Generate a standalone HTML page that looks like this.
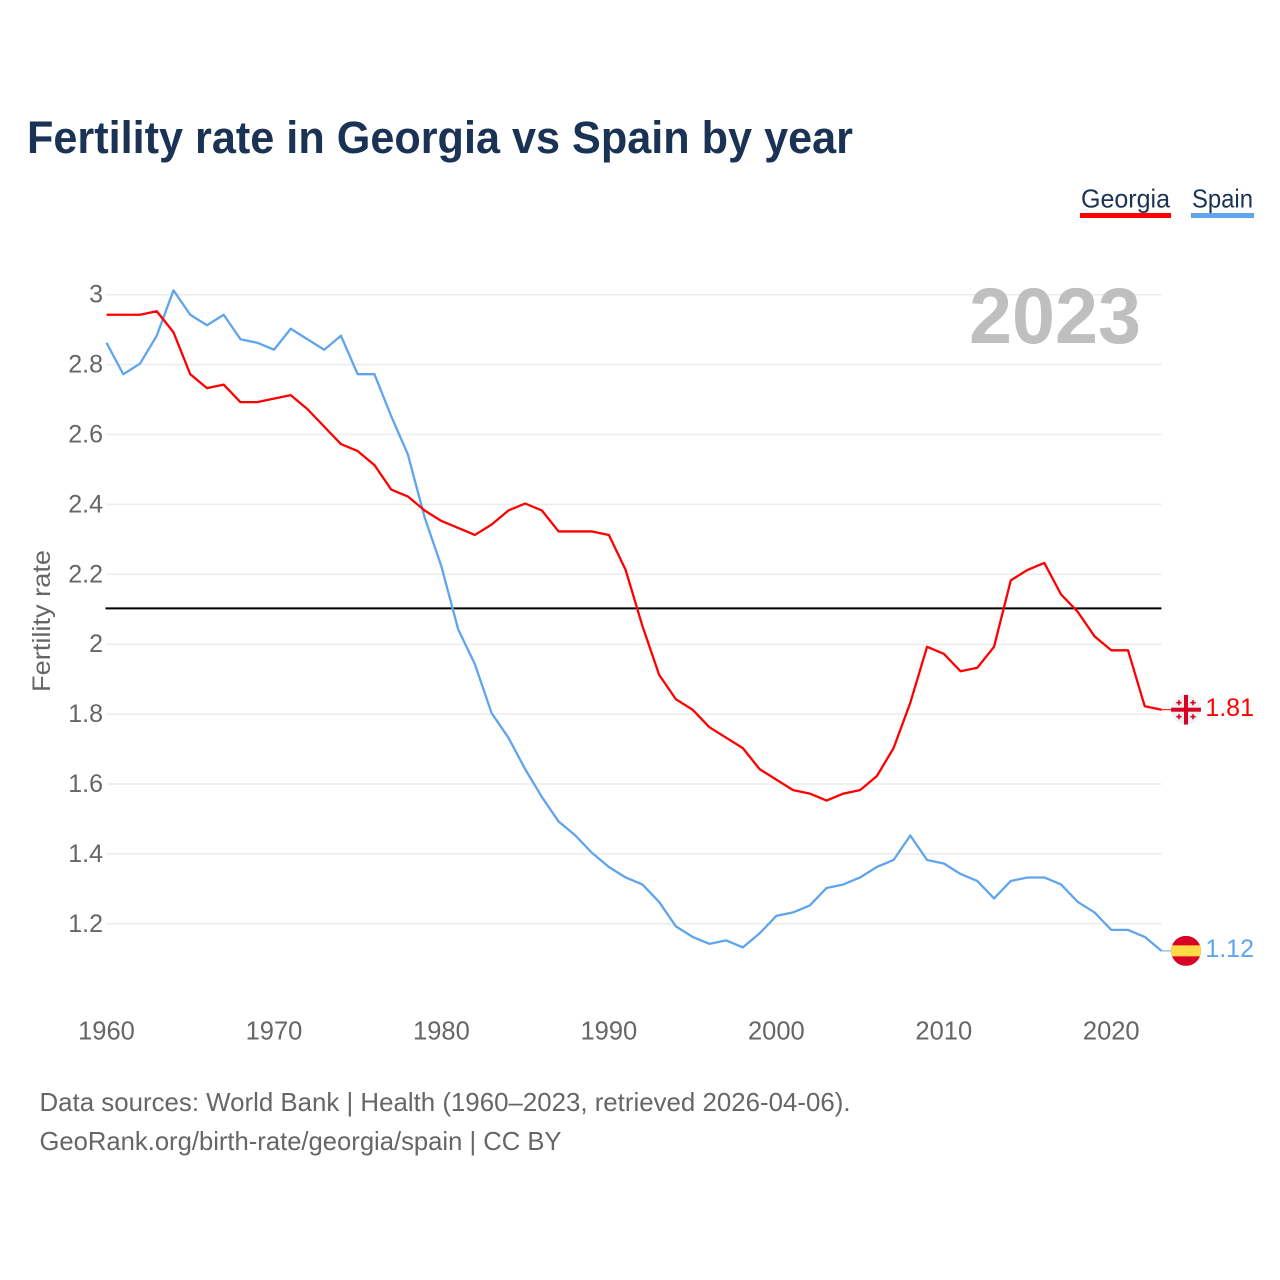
<!DOCTYPE html>
<html lang="en">
<head>
<meta charset="utf-8">
<title>Fertility rate in Georgia vs Spain by year</title>
<style>
html,body{margin:0;padding:0;background:#fff;width:1280px;height:1280px;overflow:hidden}
svg{display:block}
text{font-family:"Liberation Sans",sans-serif}
</style>
</head>
<body>
<svg id="chart" xmlns="http://www.w3.org/2000/svg" width="1280" height="1280" viewBox="0 0 1280 1280">
  <text x="27" y="153" font-size="45" font-weight="700" fill="#1a3355" textLength="826" lengthAdjust="spacingAndGlyphs">Fertility rate in Georgia vs Spain by year</text>
  <g>
    <text x="1081" y="207.5" font-size="26" fill="#1a3355" textLength="89" lengthAdjust="spacingAndGlyphs">Georgia</text>
    <rect x="1080" y="213" width="91" height="5" fill="#ff0000"/>
  </g>
  <g>
    <text x="1192" y="207.5" font-size="26" fill="#1a3355" textLength="61" lengthAdjust="spacingAndGlyphs">Spain</text>
    <rect x="1191" y="213" width="63" height="5" fill="#5fa5ee"/>
  </g>
  <g id="grid"></g>
  <g id="yticks"></g>
  <g id="xticks"></g>
  <text transform="translate(50,621) rotate(-90)" text-anchor="middle" font-size="25" fill="#666666" textLength="142" lengthAdjust="spacingAndGlyphs">Fertility rate</text>
  <text x="969" y="343" font-size="79" font-weight="700" fill="#bfbfbf" textLength="172" lengthAdjust="spacingAndGlyphs">2023</text>
  <g id="series"></g>
  <g id="georgia-flag">
    <clipPath id="clip-ge"><circle cx="0" cy="0" r="15"/></clipPath>
    <g clip-path="url(#clip-ge)">
      <circle r="15" fill="#f0f0f0"/>
      <rect x="-15" y="-2" width="30" height="4" fill="#d80027"/>
      <rect x="-2" y="-15" width="4" height="30" fill="#d80027"/>
      <g fill="#d80027">
        <path d="M-7.8-9.6h1.6v1.8h1.8v1.6h-1.8v1.8h-1.6v-1.8h-1.8v-1.6h1.8z"/>
        <path d="M6.2-9.6h1.6v1.8h1.8v1.6h-1.8v1.8h-1.6v-1.8h-1.8v-1.6h1.8z"/>
        <path d="M-7.8 4.4h1.6v1.8h1.8v1.6h-1.8v1.8h-1.6v-1.8h-1.8v-1.6h1.8z"/>
        <path d="M6.2 4.4h1.6v1.8h1.8v1.6h-1.8v1.8h-1.6v-1.8h-1.8v-1.6h1.8z"/>
      </g>
    </g>
  </g>
  <g id="spain-flag">
    <clipPath id="clip-es"><circle cx="0" cy="0" r="15"/></clipPath>
    <g clip-path="url(#clip-es)">
      <rect x="-15" y="-15" width="30" height="30" fill="#d80027"/>
      <rect x="-15" y="-5.5" width="30" height="11" fill="#ffda44"/>
    </g>
  </g>
  <text id="georgia-end" x="1254" font-size="25" text-anchor="end" fill="#ff0000"></text>
  <text id="spain-end" x="1254" font-size="25" text-anchor="end" fill="#5fa5ee"></text>
  <text x="39.5" y="1111" font-size="26" fill="#666666" textLength="811" lengthAdjust="spacingAndGlyphs">Data sources: World Bank | Health (1960–2023, retrieved 2026-04-06).</text>
  <text x="39.5" y="1150" font-size="26" fill="#666666" textLength="522" lengthAdjust="spacingAndGlyphs">GeoRank.org/birth-rate/georgia/spain | CC BY</text>
</svg>
<script>
const firstYear = 1960;
const georgiaValues = [2.94,2.94,2.94,2.95,2.89,2.77,2.73,2.74,2.69,2.69,2.70,2.71,2.67,2.62,2.57,2.55,2.51,2.44,2.42,2.38,2.35,2.33,2.31,2.34,2.38,2.40,2.38,2.32,2.32,2.32,2.31,2.21,2.05,1.91,1.84,1.81,1.76,1.73,1.70,1.64,1.61,1.58,1.57,1.55,1.57,1.58,1.62,1.70,1.83,1.99,1.97,1.92,1.93,1.99,2.18,2.21,2.23,2.14,2.09,2.02,1.98,1.98,1.82,1.81];
const spainValues = [2.86,2.77,2.80,2.88,3.01,2.94,2.91,2.94,2.87,2.86,2.84,2.90,2.87,2.84,2.88,2.77,2.77,2.65,2.54,2.36,2.22,2.04,1.94,1.80,1.73,1.64,1.56,1.49,1.45,1.40,1.36,1.33,1.31,1.26,1.19,1.16,1.14,1.15,1.13,1.17,1.22,1.23,1.25,1.30,1.31,1.33,1.36,1.38,1.45,1.38,1.37,1.34,1.32,1.27,1.32,1.33,1.33,1.31,1.26,1.23,1.18,1.18,1.16,1.12];
const yTicks = [1.2,1.4,1.6,1.8,2,2.2,2.4,2.6,2.8,3];
const xTicks = [1960,1970,1980,1990,2000,2010,2020];
const replacementRate = 2.1;

const NS = 'http://www.w3.org/2000/svg';
const plotLeft = 106.5, plotRight = 1161.5;
const xScale = i => plotLeft + i * (plotRight - plotLeft) / 63;
const yScale = v => 294.7 + (3 - v) * 349.5;
const lineY = v => yScale(v) - 0.9;
const make = (tag, parent) => { const el = document.createElementNS(NS, tag); parent.appendChild(el); return el; };

const grid = document.getElementById('grid');
const yG = document.getElementById('yticks');
yTicks.forEach(v => {
  const line = make('line', grid);
  
  
  line.setAttribute('x1', plotLeft); line.setAttribute('x2', plotRight);
  line.setAttribute('y1', yScale(v)); line.setAttribute('y2', yScale(v));
  line.setAttribute('stroke', '#ececec'); line.setAttribute('stroke-width', '1.5');
  const t = make('text', yG);
  
  
  t.setAttribute('x', 103); t.setAttribute('y', yScale(v) + 8);
  t.setAttribute('text-anchor', 'end'); t.setAttribute('font-size', '25'); t.setAttribute('fill', '#666666');
  t.textContent = String(v);
});

const xG = document.getElementById('xticks');
xTicks.forEach(y => {
  const t = make('text', xG);
  
  
  t.setAttribute('x', xScale(y - firstYear)); t.setAttribute('y', 1039.5);
  t.setAttribute('text-anchor', 'middle'); t.setAttribute('font-size', '25.5'); t.setAttribute('fill', '#666666');
  t.textContent = String(y);
});

const series = document.getElementById('series');
const ref = make('line', series);


ref.setAttribute('x1', plotLeft - 1); ref.setAttribute('x2', plotRight);
ref.setAttribute('y1', lineY(replacementRate)); ref.setAttribute('y2', lineY(replacementRate));
ref.setAttribute('stroke', '#000'); ref.setAttribute('stroke-width', '2');

function drawSeries(values, color, name) {
  const pts = values.map((v, i) => xScale(i).toFixed(2) + ',' + lineY(v).toFixed(2)).join(' ');
  const p = make('polyline', series);
  
  
  p.setAttribute('points', pts);
  p.setAttribute('fill', 'none'); p.setAttribute('stroke', color);
  p.setAttribute('stroke-width', '2.3'); p.setAttribute('stroke-linejoin', 'round');
  const lastY = lineY(values[values.length - 1]);
  const c = make('line', series);
  
  
  c.setAttribute('x1', plotRight); c.setAttribute('x2', plotRight + 10);
  c.setAttribute('y1', lastY); c.setAttribute('y2', lastY);
  c.setAttribute('stroke', color); c.setAttribute('stroke-width', '1');
}
drawSeries(spainValues, '#5fa5ee', 'spain-line');
drawSeries(georgiaValues, '#ff0000', 'georgia-line');

function placeEnd(values, flagId, labelId) {
  const v = values[values.length - 1];
  const y = lineY(v);
  document.getElementById(flagId).setAttribute('transform', 'translate(1186,' + y + ')');
  const t = document.getElementById(labelId);
  t.setAttribute('y', y + 6.2);
  t.textContent = v.toFixed(2);
}
placeEnd(georgiaValues, 'georgia-flag', 'georgia-end');
placeEnd(spainValues, 'spain-flag', 'spain-end');
</script>
</body>
</html>
